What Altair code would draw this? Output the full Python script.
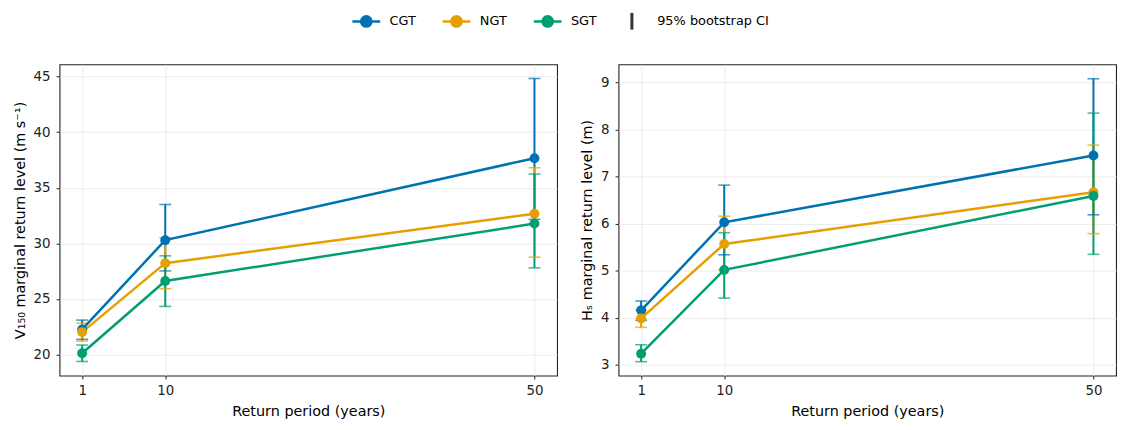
import sys
import altair as alt
import pandas as pd

periods = [1, 10, 50]
series = ["CGT", "NGT", "SGT"]
colors = ["#0072B2", "#E69F00", "#009E73"]
ci_label = "95% bootstrap CI"

# V150 marginal return level (m/s)
v150_mean = {"CGT": [22.26, 30.29, 37.66], "NGT": [22.02, 28.22, 32.67], "SGT": [20.12, 26.62, 31.78]}
v150_lo = {"CGT": [21.37, 27.52, 32.16], "NGT": [21.21, 25.92, 28.76], "SGT": [19.38, 24.33, 27.80]}
v150_hi = {"CGT": [23.10, 33.50, 44.83], "NGT": [22.82, 30.52, 36.80], "SGT": [20.86, 28.88, 36.24]}

# Hs marginal return level (m)
hs_mean = {"CGT": [4.16, 6.03, 7.45], "NGT": [3.99, 5.57, 6.67], "SGT": [3.24, 5.02, 6.59]}
hs_lo = {"CGT": [3.95, 5.34, 6.19], "NGT": [3.80, 5.03, 5.79], "SGT": [3.07, 4.42, 5.35]}
hs_hi = {"CGT": [4.36, 6.82, 9.08], "NGT": [4.17, 6.16, 7.67], "SGT": [3.43, 5.81, 8.35]}

FONT = "DejaVu Sans"


def make_df(mean, lo, hi):
    rows = []
    for s in series:
        for i, p in enumerate(periods):
            rows.append({"series": s, "period": p, "mean": mean[s][i],
                         "lo": lo[s][i], "hi": hi[s][i], "ci": ci_label})
    return pd.DataFrame(rows)


def build(use_encode):
    lkw = dict(title=None, orient="none", direction="horizontal", legendX=294, legendY=-59,
               symbolType="M-1,0H1M-0.37,0A0.37,0.37 0 1,0 0.37,0A0.37,0.37 0 1,0 -0.37,0Z",
               symbolSize=784, symbolStrokeWidth=2.5, symbolOpacity=1, labelOffset=8,
               labelFontSize=13, labelFont=FONT, labelColor="#000")
    if use_encode:
        lkw["encode"] = {"symbols": {"update": {"fill": {"scale": "color", "field": "value"},
                                                 "stroke": {"scale": "color", "field": "value"},
                                                 "opacity": {"value": 1}}}}
    color_legend = alt.Legend(**lkw)
    color_enc = alt.Color("series:N", scale=alt.Scale(domain=series, range=colors), legend=color_legend)

    ci_legend = alt.Legend(
        title=None, orient="none", legendX=562, legendY=-59,
        symbolType="M0,-0.6V0.6", symbolSize=784, symbolStrokeWidth=3, symbolOpacity=1,
        symbolStrokeColor="#333", symbolFillColor="#333", labelOffset=10,
        labelFontSize=13, labelFont=FONT, labelColor="#000",
    )

    def panel(df, ydomain, yvalues, ytitle):
        x = alt.X("period:Q", scale=alt.Scale(domain=[-1.45, 52.45], nice=False, zero=False),
                  axis=alt.Axis(values=periods, title="Return period (years)"))
        base = alt.Chart(df)
        yscale = alt.Scale(domain=ydomain, nice=False, zero=False)
        yaxis = alt.Axis(values=yvalues, title=ytitle)
        rules = base.mark_rule(strokeWidth=2).encode(
            x=x, y=alt.Y("lo:Q", scale=yscale, axis=yaxis), y2="hi:Q", color=color_enc,
            opacity=alt.Opacity("ci:O", scale=alt.Scale(domain=[ci_label], range=[1]), legend=ci_legend),
        )
        cap_lo = base.mark_tick(orient="horizontal", size=12, thickness=1.6).encode(
            x=x, y=alt.Y("lo:Q", scale=yscale), color=color_enc)
        cap_hi = base.mark_tick(orient="horizontal", size=12, thickness=1.6).encode(
            x=x, y=alt.Y("hi:Q", scale=yscale), color=color_enc)
        line = base.mark_line(strokeWidth=2.5).encode(
            x=x, y=alt.Y("mean:Q", scale=yscale), color=color_enc)
        pts = base.mark_point(filled=True, size=100, opacity=1).encode(
            x=x, y=alt.Y("mean:Q", scale=yscale), color=color_enc)
        return alt.layer(rules, cap_lo, cap_hi, line, pts).properties(width=502, height=314)

    left = panel(make_df(v150_mean, v150_lo, v150_hi), [18.11, 46.1], [20, 25, 30, 35, 40, 45],
                 "V\u2081\u2085\u2080 marginal return level (m s\u207b\u00b9)")
    right = panel(make_df(hs_mean, hs_lo, hs_hi), [2.775, 9.385], [3, 4, 5, 6, 7, 8, 9],
                  "H\u209b marginal return level (m)")

    ch = alt.hconcat(left, right, spacing=21).configure(
        font=FONT, padding={"left": 3, "top": -4, "right": 5, "bottom": 5}
    ).configure_view(
        stroke="#222", strokeWidth=1.1
    ).configure_legend(
        columnPadding=21
    ).configure_axis(
        domain=False, grid=True, gridColor="#e8e8e8", gridWidth=0.9,
        tickColor="#222", tickSize=3.5, tickWidth=1,
        labelFontSize=13.5, labelColor="#222", labelFont=FONT,
        titleFontSize=14.5, titleFont=FONT, titleFontWeight="normal", titleColor="#000",
    ).configure_axisX(labelPadding=5, titlePadding=7).configure_axisY(labelPadding=6, titlePadding=6)
    ch.to_dict()
    return ch


try:
    chart = build(True)
except Exception as e:
    print("ENCODE FAILED:", str(e)[:600], file=sys.stderr)
    chart = build(False)

chart.save("out.html", embed_options={"renderer": "svg", "actions": False})
